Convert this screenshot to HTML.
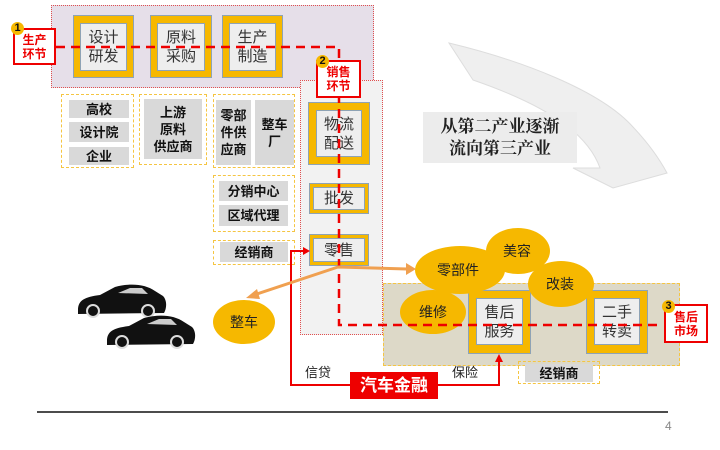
<!DOCTYPE html>
<html><head><meta charset="utf-8"><style>
body{margin:0;width:720px;height:450px;background:#fff;position:relative;overflow:hidden;font-family:"Liberation Sans","Noto Sans CJK SC",sans-serif;}
.a{position:absolute;box-sizing:border-box;}
.g{background:#d9d9d9;font-weight:bold;font-size:13px;color:#111;display:flex;align-items:center;justify-content:center;text-align:center;line-height:17px;}
.yd{border:1.5px dashed #f5c542;}
.ob{background:#f6b800;border:1px solid #8ea3b5;}
.ib{background:#eeeeee;border:1px solid #8ea3b5;display:flex;align-items:center;justify-content:center;text-align:center;font-size:15px;color:#333;line-height:19px;}
.rb{background:#fff;border:2px solid #e00;color:#e00;font-weight:bold;font-size:12px;line-height:14px;display:flex;align-items:center;justify-content:center;text-align:center;}
.badge{width:13px;height:13px;border-radius:50%;background:#f6b800;font-size:11px;font-weight:bold;color:#111;text-align:center;line-height:13px;}
</style></head><body>
<div class="a" style="left:51px;top:5px;width:323px;height:83px;background:#e6dfe9;border:1.5px dotted #e05050"></div>
<div class="a" style="left:300px;top:80px;width:83px;height:255px;background:#f2f2f2;border:1.5px dotted #e05050"></div>
<div class="a" style="left:383px;top:283px;width:297px;height:83px;background:#ddd9c8;border:1.5px dashed #f5c542"></div>

<svg class="a" style="left:0;top:0" width="720" height="450">
<path d="M449,43 C520,60 600,90 633,127 C650,145 660,160 667,173 L613,188 L573,168 L600,168 C590,140 560,110 473,80 Z" fill="#efefef" stroke="#ddd"/>
</svg>
<div class="a" style="left:423px;top:112px;width:154px;height:51px;background:#ececec;font-family:'Liberation Serif','Noto Serif CJK SC',serif;font-weight:bold;font-size:17px;line-height:22px;text-align:center;padding-top:4px;color:#222">从第二产业逐渐<br>流向第三产业</div>

<div class="a ob" style="left:73px;top:15px;width:61px;height:63px"></div><div class="a ib" style="left:80px;top:23px;width:47px;height:48px">设计<br>研发</div>
<div class="a ob" style="left:150px;top:15px;width:62px;height:63px"></div><div class="a ib" style="left:157px;top:23px;width:48px;height:48px">原料<br>采购</div>
<div class="a ob" style="left:222px;top:15px;width:61px;height:63px"></div><div class="a ib" style="left:229px;top:23px;width:47px;height:48px">生产<br>制造</div>

<div class="a yd" style="left:61px;top:94px;width:73px;height:74px"></div>
<div class="a g" style="left:69px;top:100px;width:60px;height:18px">高校</div>
<div class="a g" style="left:69px;top:122px;width:60px;height:20px">设计院</div>
<div class="a g" style="left:69px;top:147px;width:60px;height:18px">企业</div>
<div class="a yd" style="left:139px;top:94px;width:68px;height:71px"></div>
<div class="a g" style="left:144px;top:99px;width:58px;height:60px">上游<br>原料<br>供应商</div>
<div class="a yd" style="left:213px;top:94px;width:82px;height:74px"></div>
<div class="a g" style="left:216px;top:100px;width:35px;height:65px">零部<br>件供<br>应商</div>
<div class="a g" style="left:255px;top:100px;width:39px;height:65px">整车<br>厂</div>
<div class="a yd" style="left:213px;top:175px;width:82px;height:57px"></div>
<div class="a g" style="left:219px;top:181px;width:69px;height:20px">分销中心</div>
<div class="a g" style="left:219px;top:205px;width:69px;height:21px">区域代理</div>
<div class="a yd" style="left:213px;top:240px;width:82px;height:25px"></div>
<div class="a g" style="left:220px;top:242px;width:68px;height:20px">经销商</div>

<div class="a ob" style="left:308px;top:102px;width:62px;height:63px"></div><div class="a ib" style="left:316px;top:110px;width:46px;height:47px">物流<br>配送</div>
<div class="a ob" style="left:309px;top:183px;width:60px;height:31px"></div><div class="a ib" style="left:313px;top:187px;width:52px;height:23px">批发</div>
<div class="a ob" style="left:309px;top:234px;width:60px;height:32px"></div><div class="a ib" style="left:313px;top:238px;width:52px;height:24px">零售</div>

<div class="a ob" style="left:468px;top:290px;width:63px;height:64px"></div><div class="a ib" style="left:476px;top:298px;width:47px;height:47px">售后<br>服务</div>
<div class="a ob" style="left:586px;top:290px;width:62px;height:64px"></div><div class="a ib" style="left:594px;top:298px;width:46px;height:47px">二手<br>转卖</div>
<div class="a yd" style="left:518px;top:361px;width:82px;height:23px"></div>
<div class="a g" style="left:525px;top:364px;width:68px;height:18px">经销商</div>

<svg class="a" style="left:0;top:0" width="720" height="450">
<g fill="#f6b800">
<ellipse cx="460" cy="270" rx="45" ry="24"/>
<ellipse cx="518" cy="251" rx="32" ry="23"/>
<ellipse cx="561" cy="284" rx="33" ry="23"/>
<ellipse cx="433" cy="312" rx="33" ry="22"/>
<ellipse cx="244" cy="322" rx="31" ry="22"/>
</g>
<g font-size="14" fill="#222" text-anchor="middle" font-family="Liberation Sans,Noto Sans CJK SC,sans-serif">
<text x="458" y="275">零部件</text><text x="517" y="256">美容</text><text x="560" y="289">改装</text><text x="433" y="317">维修</text><text x="244" y="327">整车</text>
</g>
<path d="M56,47 H339 V325 H662" fill="none" stroke="#e00" stroke-width="2.5" stroke-dasharray="9,6"/>
<path d="M350,385 H291 V251 H304" fill="none" stroke="#e00" stroke-width="2"/>
<path d="M303,247 L310,251 L303,255 Z" fill="#e00"/>
<path d="M438,385 H499 V361" fill="none" stroke="#e00" stroke-width="2"/>
<path d="M495,362 L499,354 L503,362 Z" fill="#e00"/>
<path d="M338,267 L407,269 M338,267 L254,295" fill="none" stroke="#f0a050" stroke-width="3"/>
<path d="M406,263 L416,269 L406,275 Z" fill="#f0a050"/>
<path d="M257,289 L246,298 L260,299 Z" fill="#f0a050"/>
<g fill="#111">
<path d="M78,310 C78,300 85,297 100,295 L115,287 C130,283 145,284 155,291 L163,296 C167,300 167,308 164,313 L78,314 Z"/>
<circle cx="93" cy="311" r="6" fill="#111" stroke="#ddd" stroke-width="2"/><circle cx="148" cy="311" r="6" fill="#111" stroke="#ddd" stroke-width="2"/>
<path d="M107,341 C107,331 114,328 129,326 L144,318 C159,314 174,315 184,322 L192,327 C196,331 196,339 193,344 L107,345 Z"/>
<circle cx="122" cy="342" r="6" fill="#111" stroke="#ddd" stroke-width="2"/><circle cx="177" cy="342" r="6" fill="#111" stroke="#ddd" stroke-width="2"/>
</g>
<path d="M118,293 L130,288 H142 L148,294 Z M147,324 L159,319 H171 L177,325 Z" fill="#ccc"/>
<line x1="37" y1="412" x2="668" y2="412" stroke="#111" stroke-width="1.5"/>
<text x="665" y="430" font-size="12" fill="#888">4</text>
<text x="305" y="377" font-size="13" fill="#222">信贷</text>
<text x="452" y="377" font-size="13" fill="#222">保险</text>
</svg>

<div class="a" style="left:350px;top:372px;width:88px;height:27px;background:#e00;color:#fff;font-weight:bold;font-size:17px;text-align:center;line-height:27px">汽车金融</div>

<div class="a rb" style="left:13px;top:28px;width:43px;height:37px">生产<br>环节</div>
<div class="a badge" style="left:11px;top:22px">1</div>
<div class="a rb" style="left:316px;top:60px;width:45px;height:38px">销售<br>环节</div>
<div class="a badge" style="left:316px;top:55px">2</div>
<div class="a rb" style="left:664px;top:304px;width:44px;height:39px">售后<br>市场</div>
<div class="a badge" style="left:662px;top:300px">3</div>
</body></html>
